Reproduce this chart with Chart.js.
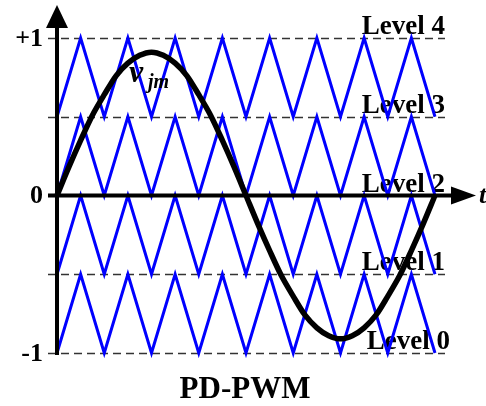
<!DOCTYPE html>
<html>
<head>
<meta charset="utf-8">
<script src="https://cdn.jsdelivr.net/npm/chart.js@4/dist/chart.umd.min.js"></script>
<style>
  html, body { margin: 0; padding: 0; background: #fff; }
  canvas { display: block; }
</style>
</head>
<body>
<canvas id="pwm" width="486" height="406"></canvas>
<script>
// Time positions in carrier half-periods (one reference period = 8 carrier periods)
const carrierTimes = [0, 1, 2, 3, 4, 5, 6, 7, 8, 9, 10, 11, 12, 13, 14, 15, 16];

// Four level-shifted triangular carriers, all in phase (phase disposition)
const carrier3 = [0.5, 1, 0.5, 1, 0.5, 1, 0.5, 1, 0.5, 1, 0.5, 1, 0.5, 1, 0.5, 1, 0.5];
const carrier2 = [0, 0.5, 0, 0.5, 0, 0.5, 0, 0.5, 0, 0.5, 0, 0.5, 0, 0.5, 0, 0.5, 0];
const carrier1 = [-0.5, 0, -0.5, 0, -0.5, 0, -0.5, 0, -0.5, 0, -0.5, 0, -0.5, 0, -0.5, 0, -0.5];
const carrier0 = [-1, -0.5, -1, -0.5, -1, -0.5, -1, -0.5, -1, -0.5, -1, -0.5, -1, -0.5, -1, -0.5, -1];

// Reference waveform v_jm, sampled every quarter carrier period
const refTimes = [0, 0.5, 1, 1.5, 2, 2.5, 3, 3.5, 4, 4.5, 5, 5.5, 6, 6.5, 7, 7.5, 8,
                  8.5, 9, 9.5, 10, 10.5, 11, 11.5, 12, 12.5, 13, 13.5, 14, 14.5, 15, 15.5, 16];
const refValues = [0, 0.18, 0.35, 0.51, 0.64, 0.76, 0.84, 0.89, 0.91, 0.89, 0.84, 0.76, 0.64, 0.51, 0.35, 0.18, 0,
                   -0.18, -0.35, -0.51, -0.64, -0.76, -0.84, -0.89, -0.91, -0.89, -0.84, -0.76, -0.64, -0.51, -0.35, -0.18, 0];

// Dashed level boundaries and axis labels
const dashedLevels = [1, 0.5, -0.5, -1];
const axisTicks = [1, 0, -1];
const axisTickLabels = ['+1', '0', '-1'];
const levelNames = ['Level 4', 'Level 3', 'Level 2', 'Level 1', 'Level 0'];
const levelValues = [1, 0.5, 0, -0.5, -1];

const pts = (xs, ys) => xs.map((x, i) => ({ x: x, y: ys[i] }));
const BLUE = '#0000ff';
const SERIF = '"Liberation Serif", "DejaVu Serif", serif';

const carrierSet = (data) => ({
  data: pts(carrierTimes, data),
  borderColor: BLUE,
  borderWidth: 3,
  pointRadius: 0,
  tension: 0,
  borderJoinStyle: 'miter',
  clip: false
});

// Dashed guides and level names go underneath the waveforms
const underlay = {
  id: 'underlay',
  beforeDatasetsDraw(chart) {
    const { ctx, scales: { x, y } } = chart;
    ctx.save();
    ctx.strokeStyle = '#333';
    ctx.lineWidth = 1.5;
    ctx.setLineDash([8, 5]);
    const x0 = x.getPixelForValue(0) - 9;
    const x1 = x.getPixelForValue(16) + 10;
    dashedLevels.forEach(v => {
      const py = Math.round(y.getPixelForValue(v)) + 0.5;
      ctx.beginPath();
      ctx.moveTo(x0, py);
      ctx.lineTo(x1, py);
      ctx.stroke();
    });
    ctx.setLineDash([]);

    ctx.fillStyle = '#000';
    ctx.font = 'bold 27px ' + SERIF;
    ctx.textAlign = 'left';
    ctx.textBaseline = 'alphabetic';
    levelNames.forEach((name, i) => {
      const px = x.getPixelForValue(12.9) + (i === 4 ? 5 : 0);
      ctx.fillText(name, px, y.getPixelForValue(levelValues[i]) - 4);
    });
    ctx.restore();
  }
};

// Axes with arrowheads and text drawn on top
const overlay = {
  id: 'overlay',
  afterDatasetsDraw(chart) {
    const { ctx, scales: { x, y } } = chart;
    const ox = x.getPixelForValue(0);
    const oy = y.getPixelForValue(0);
    const yBottom = y.getPixelForValue(-1);
    ctx.save();
    ctx.strokeStyle = '#000';
    ctx.fillStyle = '#000';
    ctx.lineWidth = 4;
    ctx.lineCap = 'butt';

    // vertical axis
    ctx.beginPath();
    ctx.moveTo(ox, yBottom + 2);
    ctx.lineTo(ox, 27);
    ctx.stroke();
    ctx.beginPath();
    ctx.moveTo(ox, 5);
    ctx.lineTo(ox - 11, 28);
    ctx.lineTo(ox + 11, 28);
    ctx.closePath();
    ctx.fill();

    // horizontal axis
    ctx.beginPath();
    ctx.moveTo(ox - 9, oy);
    ctx.lineTo(452, oy);
    ctx.stroke();
    ctx.beginPath();
    ctx.moveTo(476, oy);
    ctx.lineTo(451, oy - 9);
    ctx.lineTo(451, oy + 9);
    ctx.closePath();
    ctx.fill();

    // tick labels
    ctx.font = 'bold 26px ' + SERIF;
    ctx.textAlign = 'right';
    ctx.textBaseline = 'middle';
    axisTicks.forEach((v, i) => {
      ctx.fillText(axisTickLabels[i], ox - 14, y.getPixelForValue(v) + 1);
    });

    // axis name t
    ctx.font = 'italic bold 26px ' + SERIF;
    ctx.textAlign = 'left';
    ctx.fillText('t', 479, oy + 1);

    // waveform name v_jm
    ctx.textBaseline = 'alphabetic';
    ctx.font = 'italic bold 32px ' + SERIF;
    ctx.fillText('v', 129, 82);
    ctx.font = 'italic bold 20px ' + SERIF;
    ctx.fillText('jm', 148, 88);

    // caption
    ctx.font = 'bold 31px ' + SERIF;
    ctx.textAlign = 'center';
    ctx.fillText('PD-PWM', 245, 398);
    ctx.restore();
  }
};

new Chart(document.getElementById('pwm'), {
  type: 'line',
  data: {
    datasets: [
      {
        data: pts(refTimes, refValues),
        borderColor: '#000',
        borderWidth: 5.5,
        pointRadius: 0,
        tension: 0.3,
        clip: false
      },
      carrierSet(carrier3),
      carrierSet(carrier2),
      carrierSet(carrier1),
      carrierSet(carrier0)
    ]
  },
  options: {
    responsive: false,
    animation: false,
    events: [],
    layout: { padding: { left: 57, right: 51, top: 38, bottom: 53 } },
    scales: {
      x: { type: 'linear', min: 0, max: 16, display: false },
      y: { type: 'linear', min: -1, max: 1, display: false }
    },
    plugins: {
      legend: { display: false },
      tooltip: { enabled: false },
      title: { display: false }
    }
  },
  plugins: [underlay, overlay]
});
</script>
</body>
</html>
